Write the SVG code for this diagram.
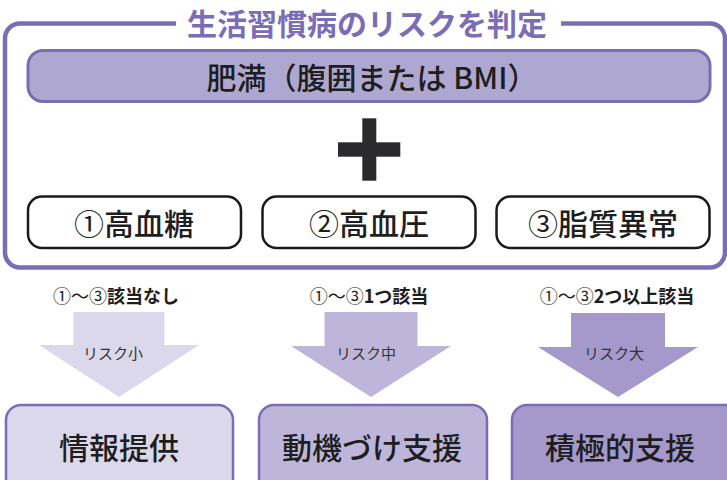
<svg xmlns="http://www.w3.org/2000/svg" width="727" height="480" viewBox="0 0 727 480">
<style>
text{font-family:"Noto Sans CJK JP","Noto Sans",sans-serif;dominant-baseline:central;text-anchor:middle}
.frame{fill:none;stroke:#7b6db5;stroke-width:4.5}
.bar{fill:#aea8d1;stroke:#7b6db5;stroke-width:3}
.cond{fill:#fff;stroke:#1a1a1a;stroke-width:2.5}
.res{stroke:#7b6db5;stroke-width:2.5}
.big{font-size:30px;font-weight:500;fill:#1e1e1e}
.circ{font-weight:400}
.lbl{font-size:18px;font-weight:700;fill:#1e1e1e}
.risk{font-size:15px;font-weight:400;fill:#333}
.title{font-size:30px;font-weight:700;fill:#7b6db5}
</style>
<g id="frame">
<path class="frame" d="M176,23.5 H20 A15,15 0 0 0 5,38.5 V252.5 A15,15 0 0 0 20,267.5 H710 A15,15 0 0 0 725,252.5 V38.5 A15,15 0 0 0 710,23.5 H561"/>
<text class="title" x="367" y="22">生活習慣病のリスクを判定</text>
</g>
<g id="obesity">
<rect class="bar" x="28" y="50.5" width="682" height="51" rx="15"/>
<text class="big" x="372" y="76" font-size="30">肥満（腹囲または BMI）</text>
</g>
<g id="plus">
<rect x="362.3" y="118.3" width="14" height="62.4" fill="#2b2b2e"/>
<rect x="338" y="142.3" width="62.3" height="14.4" fill="#2b2b2e"/>
</g>
<g id="cond1">
<rect class="cond" x="28" y="196.5" width="213" height="51.5" rx="14"/>
<text class="big" x="134" y="222"><tspan class="circ">①</tspan>高血糖</text>
</g>
<g id="cond2">
<rect class="cond" x="262.5" y="196.5" width="213" height="51.5" rx="14"/>
<text class="big" x="369" y="222"><tspan class="circ">②</tspan>高血圧</text>
</g>
<g id="cond3">
<rect class="cond" x="496.5" y="196.5" width="213" height="51.5" rx="14"/>
<text class="big" x="603" y="222"><tspan class="circ">③</tspan>脂質異常</text>
</g>
<g id="connectors">
<path d="M73.5,312 H164.5 V345 H199 L119,397 L39,345 H73.5 Z" fill="#dcd8ec"/>
<path d="M324.5,312 H417.5 V346 H451 L371,397 L291,346 H324.5 Z" fill="#bdb6da"/>
<path d="M571,313 H665 V347 H698 L618,397 L538,347 H571 Z" fill="#a499ca"/>
<text class="lbl" x="116" y="295"><tspan class="circ">①～③</tspan>該当なし</text>
<text class="lbl" x="369" y="295"><tspan class="circ">①～③</tspan>1つ該当</text>
<text class="lbl" x="617" y="295"><tspan class="circ">①～③</tspan>2つ以上該当</text>
<text class="risk" x="113" y="352">リスク小</text>
<text class="risk" x="366" y="352">リスク中</text>
<text class="risk" x="614" y="352">リスク大</text>
</g>
<g id="res1">
<rect class="res" x="6" y="405" width="227" height="90" rx="15" fill="#dcd8ec"/>
<text class="big" x="119" y="446" font-size="31">情報提供</text>
</g>
<g id="res2">
<rect class="res" x="259" y="405" width="228" height="90" rx="15" fill="#bdb6da"/>
<text class="big" x="372" y="446" font-size="31">動機づけ支援</text>
</g>
<g id="res3">
<rect class="res" x="512" y="405" width="230" height="90" rx="15" fill="#a499ca"/>
<text class="big" x="620" y="446" font-size="31">積極的支援</text>
</g>
</svg>
